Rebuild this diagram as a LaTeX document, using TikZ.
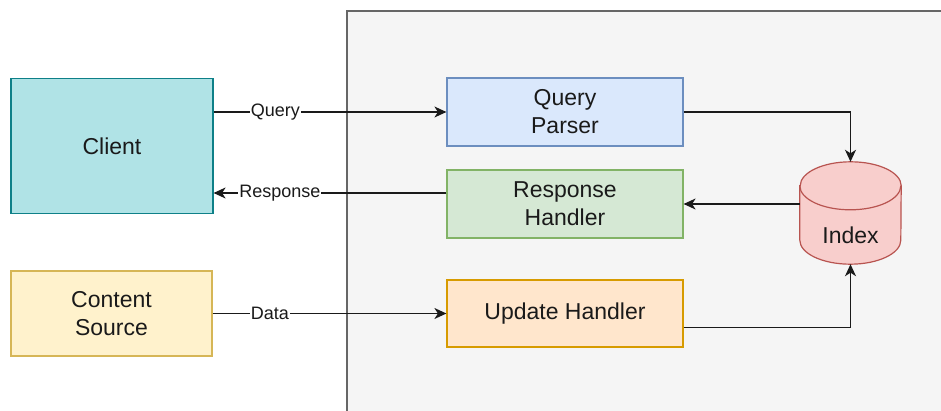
\documentclass[tikz,border=0pt]{standalone}
\usepackage{fontspec}
\setmainfont{Liberation Sans}
\usetikzlibrary{arrows.meta,calc}

\definecolor{inkc}{HTML}{1A1A1A}
\definecolor{groupfill}{HTML}{F5F5F5}
\definecolor{groupline}{HTML}{666666}
\definecolor{clientfill}{HTML}{B0E3E6}
\definecolor{clientline}{HTML}{0E8088}
\definecolor{parserfill}{HTML}{DAE8FC}
\definecolor{parserline}{HTML}{6C8EBF}
\definecolor{respfill}{HTML}{D5E8D4}
\definecolor{respline}{HTML}{82B366}
\definecolor{updfill}{HTML}{FFE6CC}
\definecolor{updline}{HTML}{D79B00}
\definecolor{srcfill}{HTML}{FFF2CC}
\definecolor{srcline}{HTML}{D6B656}
\definecolor{idxfill}{HTML}{F8CECC}
\definecolor{idxline}{HTML}{B85450}

\tikzset{
  box/.style={draw, line width=1.2pt, rectangle, align=center, inner sep=0pt,
    text=inkc, font=\fontsize{23}{28}\selectfont},
  flow/.style={draw=inkc, line width=1.3pt,
    -{Stealth[length=12pt,width=11pt,inset=3.5pt]}},
  edgelabel/.style={fill=white, text=inkc, inner sep=1pt,
    font=\fontsize{18}{20}\selectfont},
}

\begin{document}
\begin{tikzpicture}[x=1pt,y=1pt]
  \useasboundingbox (0,0) rectangle (941,-411);
  \clip (0,0) rectangle (941,-411);
  \fill[white] (0,0) rectangle (941,-411);

  % service group
  \draw[fill=groupfill, draw=groupline, line width=1.2pt] (347,-11) rectangle (980,-450);

  % left side
  \node[box, fill=clientfill, draw=clientline, minimum width=202, minimum height=135]
    (client) at (112,-146) {Client};
  \node[box, fill=srcfill, draw=srcline, minimum width=201, minimum height=85]
    (src) at (111.5,-313.5) {Content\\Source};

  % service components
  \node[box, fill=parserfill, draw=parserline, minimum width=236, minimum height=68]
    (qp) at (565,-112) {Query\\Parser};
  \node[box, fill=respfill, draw=respline, minimum width=236, minimum height=68]
    (rh) at (565,-204) {Response\\Handler};
  \node[box, fill=updfill, draw=updline, minimum width=236, minimum height=67]
    (uh) at (565,-313.5) {Update Handler};

  % index cylinder
  \node[rectangle, minimum width=101, minimum height=102, inner sep=0pt]
    (idx) at (850.5,-213) {};
  \draw[fill=idxfill, draw=idxline, line width=1.2pt]
    ([yshift=-24]idx.north west) -- ([yshift=24]idx.south west)
    arc[start angle=180, end angle=360, x radius=50.5, y radius=24]
    -- ([yshift=-24]idx.north east)
    arc[start angle=0, end angle=180, x radius=50.5, y radius=24] -- cycle;
  \draw[draw=idxline, line width=1.2pt]
    ([yshift=-24]idx.north west)
    arc[start angle=180, end angle=360, x radius=50.5, y radius=24];
  \node[text=inkc, font=\fontsize{23}{28}\selectfont] (idxtext)
    at ([yshift=-22]idx.center) {Index};

  % connectors
  \draw[flow] (qp.west -| client.east) -- (qp.west)
    node[edgelabel, pos=0.265] {Query};
  \draw[flow] ([yshift=11]rh.west) -- ([yshift=11]rh.west -| client.east)
    node[edgelabel, pos=0.715] {Response};
  \draw[flow] (src.east) -- (uh.west)
    node[edgelabel, pos=0.245] {Data};
  \draw[flow] (qp.east) -| (idx.north);
  \draw[flow] (idx.west |- rh.east) -- (rh.east);
  \draw[flow] ([yshift=-14]uh.east) -| (idx.south);
\end{tikzpicture}
\end{document}
